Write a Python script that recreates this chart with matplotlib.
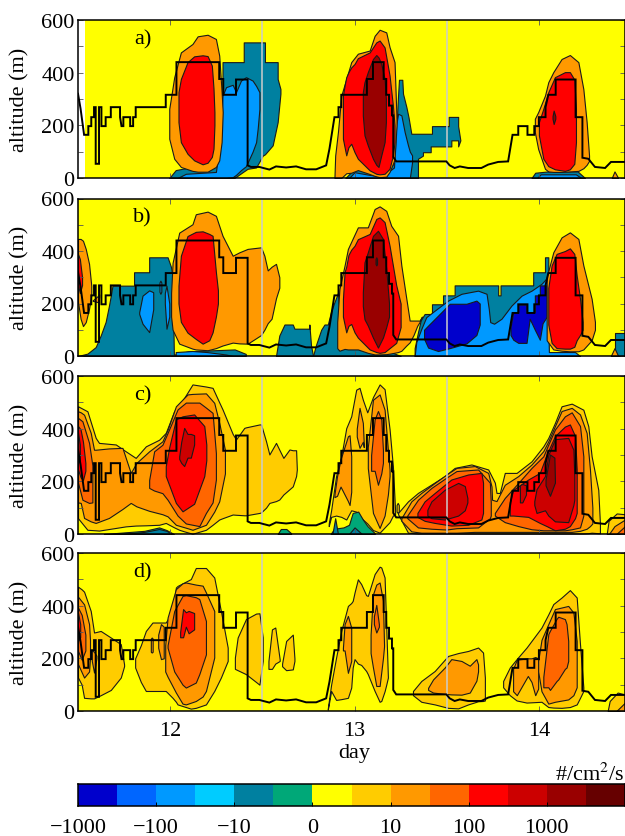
import matplotlib
matplotlib.use("Agg")
import matplotlib.pyplot as plt
from matplotlib.colors import ListedColormap

plt.rcParams["font.family"] = "Liberation Serif"
plt.rcParams["mathtext.fontset"] = "stix"
plt.rcParams["font.size"] = 16

# colour bar
bar_colors = ["#0000CC", "#0066FF", "#0099FF", "#00CCFF", "#0080A0", "#00A878", "#FFFF00",
              "#FFCC00", "#FF9900", "#FF6600", "#FF0000", "#CC0000", "#990000", "#660000"]
bar_levels = list(range(14))
bar_ticks = [0, 2, 4, 6, 8, 10, 12]
bar_labels = ["\u22121000", "\u2212100", "\u221210", "0", "10", "100", "1000"]
dblue, mblue, blue, cyan, teal, green, yellow, gold, orange, dorange, red, crimson, maroon, black_red = bar_colors

# mixed layer height, same in every panel
blh_day = [11.5, 11.514, 11.533, 11.556, 11.556, 11.572, 11.572, 11.587, 11.587, 11.596, 11.596, 11.614, 11.614,
           11.627, 11.627, 11.65, 11.65, 11.678, 11.678, 11.728, 11.728, 11.736, 11.746, 11.746, 11.783, 11.783,
           11.799, 11.799, 11.813, 11.813, 11.976, 11.976, 12.034, 12.034, 12.266, 12.266, 12.288, 12.288, 12.357,
           12.357, 12.42, 12.42, 12.438, 12.484, 12.505, 12.538, 12.574, 12.629, 12.683, 12.737, 12.792, 12.846,
           12.864, 12.891, 12.913, 12.913, 12.928, 12.928, 13.067, 13.067, 13.1, 13.1, 13.158, 13.158, 13.172,
           13.172, 13.187, 13.187, 13.203, 13.203, 13.21, 13.21, 13.226, 13.498, 13.516, 13.543, 13.571, 13.616,
           13.688, 13.725, 13.779, 13.833, 13.857, 13.888, 13.888, 13.938, 13.938, 13.975, 13.975, 14.0, 14.0,
           14.036, 14.036, 14.051, 14.091, 14.091, 14.199, 14.199, 14.236, 14.236, 14.268, 14.304, 14.359, 14.391,
           14.467]
blh_alt = [320, 263, 164, 164, 197, 197, 231, 231, 269, 269, 54, 54, 269,
           269, 197, 197, 231, 231, 269, 269, 231, 197, 197, 231, 231, 197,
           197, 231, 231, 269, 269, 316, 316, 440, 440, 376, 376, 316, 316,
           374, 374, 48, 42, 42, 38, 32, 44, 40, 44, 33, 33, 48,
           111, 231, 231, 269, 269, 316, 316, 376, 376, 440, 440, 376, 376,
           316, 316, 275, 275, 238, 238, 80, 63, 63, 48, 38, 44, 38,
           38, 51, 61, 63, 164, 164, 197, 197, 164, 164, 197, 197, 231,
           231, 269, 316, 316, 374, 374, 231, 231, 77, 73, 42, 38, 61,
           61]

# every contour below is (day, lower altitude, upper altitude)
# panel a
a_teal_12 = ([11.995, 12.03, 12.25, 12.284, 12.284, 12.348, 12.399, 12.399, 12.42, 12.466, 12.502, 12.514, 12.514, 12.556, 12.583, 12.583, 12.598],
             [0, 0, 0, 0, 0, 0, 25, 25, 35, 40, 85, 90, 90, 124, 212, 212, 320],
             [0, 30, 60, 60, 440, 440, 440, 515, 515, 515, 515, 515, 440, 440, 440, 376, 338])
a_blue_12 = ([12.04, 12.085, 12.248, 12.27, 12.284, 12.303, 12.339, 12.357, 12.384, 12.411, 12.447, 12.466, 12.475, 12.484],
             [0, 0, 0, 0, 0, 0, 3, 12, 30, 45, 100, 136, 190, 262],
             [0, 16, 23, 136, 313, 345, 354, 326, 370, 383, 370, 350, 338, 326])
a_orange_12 = ([11.995, 12.022, 12.058, 12.121, 12.149, 12.203, 12.248, 12.266, 12.279, 12.285],
               [149, 73, 42, 27, 24, 24, 42, 67, 136, 250],
               [263, 383, 477, 509, 538, 544, 528, 465, 326, 250])
a_red_12 = ([12.045, 12.058, 12.094, 12.13, 12.176, 12.203, 12.226, 12.235, 12.24],
            [212, 136, 92, 67, 52, 58, 80, 111, 200],
            [326, 376, 440, 462, 466, 463, 427, 340, 250])
a_teal_13 = ([12.95, 13.0, 13.08, 13.15, 13.22, 13.228, 13.236, 13.241, 13.259, 13.263, 13.281, 13.293, 13.308, 13.335, 13.344, 13.344, 13.371, 13.371, 13.413, 13.413, 13.42, 13.42, 13.498, 13.511, 13.511, 13.525, 13.525, 13.562, 13.562, 13.574],
             [0, 0, 0, 0, 0, 0, 0, 0, 0, 0, 0, 0, 0, 0, 0, 73, 85, 98, 98, 120, 120, 120, 120, 120, 120, 120, 143, 143, 120, 143],
             [0, 35, 20, 12, 60, 200, 313, 373, 373, 320, 270, 230, 168, 168, 168, 168, 168, 168, 168, 168, 168, 197, 197, 197, 232, 232, 232, 232, 197, 143])
a_blue_13 = ([12.97, 13.0, 13.08, 13.15, 13.214, 13.226, 13.236, 13.254, 13.272, 13.29, 13.3, 13.312],
             [0, 0, 0, 0, 0, 0, 0, 0, 0, 0, 0, 60],
             [0, 22, 12, 6, 40, 200, 244, 238, 174, 124, 100, 86])
a_orange_13 = ([12.891, 12.895, 12.91, 12.928, 12.955, 12.982, 13.018, 13.082, 13.109, 13.136, 13.172, 13.19, 13.217, 13.228],
               [0, 0, 0, 0, 18, 20, 30, 15, 8, 3, 5, 23, 70, 200],
               [0, 85, 175, 313, 376, 440, 472, 484, 540, 563, 553, 497, 440, 220])
a_red_13 = ([12.937, 12.946, 12.955, 12.967, 12.982, 13.0, 13.018, 13.082, 13.118, 13.136, 13.163, 13.19, 13.208, 13.217],
            [149, 117, 86, 117, 130, 98, 73, 29, 16, 14, 16, 35, 86, 136],
            [313, 351, 383, 402, 420, 433, 455, 477, 515, 522, 496, 389, 275, 200])
a_maroon_13 = ([13.045, 13.054, 13.072, 13.1, 13.118, 13.13, 13.145, 13.163, 13.17],
               [237, 162, 124, 73, 50, 42, 86, 136, 212],
               [326, 364, 402, 452, 467, 458, 433, 376, 300])
a_teal_14 = ([13.96, 13.98, 14.05, 14.21, 14.25], [0, 0, 0, 0, 0], [0, 20, 25, 25, 0])
a_blue_14 = ([13.99, 14.01, 14.2, 14.23], [0, 0, 0, 0], [0, 14, 14, 0])
a_orange_14 = ([13.978, 13.996, 14.033, 14.051, 14.078, 14.123, 14.168, 14.214, 14.241, 14.259, 14.272],
               [174, 110, 35, 25, 23, 23, 25, 27, 37, 50, 65],
               [225, 250, 313, 364, 402, 452, 467, 440, 338, 212, 85])
a_red_14 = ([14.0, 14.024, 14.051, 14.087, 14.141, 14.168, 14.192, 14.201],
            [162, 73, 45, 33, 27, 33, 54, 136],
            [212, 263, 326, 383, 402, 402, 374, 263])
a_maroon_14 = ([14.074, 14.08, 14.089], [225, 205, 225], [235, 256, 235])
a_orange_tip = ([14.395, 14.41, 14.43], [0, 0, 0], [0, 25, 0])

# panel b
b_teal_11 = ([11.5, 11.551, 11.596, 11.623, 11.65, 11.668, 11.678, 11.687, 11.804, 11.804, 11.886, 11.886, 11.986, 12.004, 12.013, 12.02, 12.1, 12.35, 12.41],
             [0, 0, 0, 0, 0, 0, 0, 0, 0, 0, 0, 0, 0, 0, 0, 0, 0, 0, 0],
             [0, 9, 34, 78, 130, 192, 230, 268, 268, 319, 319, 376, 376, 340, 300, 5, 18, 25, 8])
b_blue_11a = ([11.832, 11.85, 11.886, 11.908], [160, 123, 91, 178], [167, 230, 250, 243])
b_blue_11b = ([11.942, 11.947, 11.952], [245, 237, 245], [280, 287, 280])
b_blue_11c = ([11.971, 11.98, 11.995], [200, 104, 150], [240, 268, 200])
b_blue_12 = ([12.03, 12.12, 12.2, 12.3, 12.34], [0, 0, 0, 0, 0], [15, 19, 15, 6, 0])
b_orange_11 = ([11.5, 11.514, 11.527, 11.542, 11.56, 11.572], [205, 142, 114, 129, 180, 230], [446, 446, 439, 408, 351, 268])
b_orange_11b = ([11.58, 11.61, 11.615], [210, 205, 225], [212, 230, 235])
b_red_11 = ([11.5, 11.51, 11.522], [270, 240, 270], [388, 370, 300])
b_orange_12 = ([12.005, 12.013, 12.049, 12.121, 12.139, 12.203, 12.248, 12.284, 12.339, 12.375, 12.42, 12.493, 12.511, 12.529, 12.55, 12.574, 12.592],
               [150, 100, 47, 28, 25, 22, 30, 40, 51, 48, 47, 80, 100, 125, 142, 220, 260],
               [240, 355, 470, 502, 540, 550, 534, 458, 382, 395, 408, 414, 382, 326, 340, 351, 300])
b_red_12 = ([12.045, 12.058, 12.094, 12.139, 12.176, 12.212, 12.23, 12.248, 12.259],
            [200, 130, 89, 65, 47, 60, 90, 150, 200],
            [268, 382, 457, 473, 475, 465, 458, 320, 250])
b_teal_12a = ([12.574, 12.592, 12.62, 12.665, 12.674, 12.755, 12.755, 12.764, 12.775],
              [0, 0, 0, 0, 0, 0, 0, 0, 0],
              [0, 78, 120, 120, 104, 104, 120, 40, 0])
b_teal_12b = ([12.775, 12.79, 12.819, 12.837, 12.855, 12.873, 12.891, 12.91, 12.925, 13.0, 13.1, 13.2, 13.25],
              [0, 0, 0, 0, 0, 0, 0, 0, 0, 0, 0, 0, 0],
              [0, 40, 100, 120, 120, 170, 205, 240, 60, 32, 16, 14, 0])
b_orange_13 = ([12.906, 12.918, 12.946, 12.964, 13.018, 13.072, 13.109, 13.136, 13.172, 13.199, 13.236, 13.254, 13.281, 13.299, 13.32, 13.34, 13.353, 13.366],
               [30, 20, 27, 25, 25, 12, 6, 6, 7, 10, 15, 20, 40, 52, 80, 115, 130, 150],
               [130, 255, 345, 408, 490, 490, 560, 570, 553, 496, 458, 344, 218, 135, 135, 135, 135, 150])
b_red_13 = ([12.937, 12.946, 12.955, 12.967, 12.982, 13.0, 13.018, 13.082, 13.118, 13.136, 13.163, 13.19, 13.226, 13.25],
            [150, 120, 90, 115, 122, 90, 70, 25, 15, 12, 15, 30, 50, 110],
            [217, 320, 340, 385, 405, 420, 445, 465, 522, 528, 510, 420, 270, 200])
b_maroon_13 = ([13.045, 13.054, 13.072, 13.1, 13.127, 13.154, 13.172, 13.187],
               [190, 140, 116, 70, 32, 70, 110, 150],
               [243, 357, 395, 458, 477, 446, 332, 200])
b_darkest_13 = ([13.114, 13.118, 13.122], [350, 345, 350], [370, 376, 370])
b_teal_13 = ([13.326, 13.344, 13.359, 13.38, 13.42, 13.42, 13.48, 13.48, 13.543, 13.543, 13.779, 13.779, 13.792, 13.792, 13.969, 13.969, 14.033, 14.033, 14.051],
             [0, 0, 0, 0, 0, 0, 0, 0, 0, 0, 0, 0, 0, 0, 0, 0, 0, 0, 0],
             [30, 90, 136, 160, 160, 197, 197, 231, 231, 269, 269, 231, 231, 269, 269, 319, 319, 376, 376])
b_blue_13 = ([13.326, 13.335, 13.362, 13.389, 13.435, 13.507, 13.58, 13.67, 13.716, 13.728, 13.736, 13.757, 13.797, 13.851, 13.906, 13.96, 14.014, 14.047, 14.054, 14.196, 14.223],
             [0, 0, 0, 0, 0, 0, 0, 0, 0, 0, 0, 0, 0, 0, 0, 0, 0, 0, 0, 0, 0],
             [0, 53, 103, 148, 173, 211, 237, 249, 237, 180, 129, 123, 142, 192, 230, 249, 275, 300, 15, 15, 0])
b_dblue_13a = ([13.377, 13.399, 13.453, 13.516, 13.607, 13.661, 13.679],
               [66, 32, 19, 30, 48, 80, 120],
               [100, 116, 154, 199, 199, 211, 200])
b_dblue_13b = ([13.846, 13.861, 13.888, 13.888, 13.933, 13.933, 13.95, 13.978, 13.978, 14.005, 14.005, 14.02, 14.043],
               [80, 62, 50, 50, 50, 50, 142, 100, 100, 62, 62, 125, 150],
               [110, 167, 167, 196, 196, 167, 167, 167, 231, 231, 269, 269, 269])
b_orange_14 = ([14.042, 14.078, 14.123, 14.168, 14.214, 14.241, 14.286, 14.304],
               [60, 25, 20, 18, 18, 25, 60, 100],
               [300, 395, 452, 471, 446, 345, 218, 130])
b_red_14 = ([14.051, 14.069, 14.096, 14.141, 14.168, 14.192, 14.205, 14.223, 14.237],
            [120, 50, 30, 28, 28, 35, 60, 80, 100],
            [260, 345, 389, 400, 410, 389, 306, 218, 130])
b_teal_end = ([14.413, 14.413, 14.467], [0, 0, 0], [0, 87, 87])
b_orange_end = ([14.39, 14.41, 14.43], [0, 0, 0], [0, 30, 0])

# panel c
c_teal_bottom = ([11.74, 11.86, 11.94, 11.98, 12.01], [0, 0, 0, 0, 0], [0, 8, 19, 12, 0])
c_green_bottom = ([11.64, 11.86, 11.94, 11.98, 12.02], [0, 0, 0, 0, 0], [0, 12, 25, 15, 0])
c_green_12 = ([12.583, 12.6, 12.63, 12.656], [0, 0, 0, 0], [0, 19, 19, 3])
c_gold_12 = ([11.5, 11.551, 11.596, 11.614, 11.705, 11.759, 11.813, 11.868, 11.94, 11.976, 12.022, 12.049, 12.076, 12.121, 12.194, 12.23, 12.266, 12.284, 12.339, 12.357, 12.402, 12.411, 12.484, 12.493, 12.52, 12.538, 12.574, 12.592, 12.614, 12.647, 12.665, 12.683, 12.687],
             [60, 16, 14, 13, 23, 29, 32, 33, 35, 42, 25, 16, 10, 1, 16, 35, 55, 60, 74, 73, 71, 71, 80, 82, 100, 118, 125, 131, 150, 170, 181, 220, 245],
             [485, 466, 365, 346, 340, 314, 289, 333, 358, 384, 467, 490, 517, 568, 560, 555, 500, 473, 380, 359, 403, 405, 416, 416, 352, 302, 346, 320, 289, 321, 318, 318, 245])
c_orange_12 = ([11.5, 11.515, 11.533, 11.569, 11.587, 11.596, 11.668, 11.741, 11.786, 11.817, 11.886, 11.958, 11.986, 12.031, 12.094, 12.121, 12.194, 12.239, 12.266, 12.297],
               [120, 118, 61, 48, 44, 42, 61, 95, 118, 105, 88, 75, 67, 35, 22, 16, 35, 85, 124, 230],
               [466, 462, 453, 384, 320, 320, 325, 327, 232, 270, 314, 352, 396, 485, 530, 532, 534, 498, 422, 320])
c_dorange_11 = ([11.5, 11.524, 11.56, 11.578], [195, 130, 118, 120], [441, 428, 346, 260])
c_dorange_12 = ([11.886, 11.913, 11.958, 11.986, 12.04, 12.085, 12.158, 12.194, 12.23, 12.248],
                [175, 165, 155, 130, 70, 40, 30, 80, 120, 207],
                [205, 314, 339, 384, 473, 499, 499, 480, 460, 307])
c_red_11 = ([11.5, 11.514, 11.527, 11.54], [245, 215, 205, 240], [410, 397, 350, 270])
c_crimson_11 = ([11.5, 11.51], [280, 270], [385, 340])
c_red_12 = ([11.976, 11.995, 12.031, 12.067, 12.13, 12.185, 12.196], [220, 185, 118, 86, 115, 220, 280], [258, 330, 435, 447, 454, 410, 340])
c_crimson_12 = ([12.049, 12.06, 12.076, 12.094, 12.112, 12.13], [285, 270, 258, 290, 290, 340], [295, 350, 403, 380, 380, 375])
c_green_13 = ([12.87, 12.89, 12.94, 12.97, 12.99, 13.02, 13.045, 13.07, 13.11], [0, 0, 0, 0, 0, 0, 0, 0, 0], [0, 20, 25, 35, 80, 85, 55, 30, 3])
c_teal_13a = ([12.88, 12.895, 12.91], [0, 0, 0], [0, 60, 0])
c_teal_13b = ([12.97, 13.0, 13.04], [0, 0, 0], [0, 25, 0])
c_gold_13 = ([12.86, 12.873, 12.9, 12.928, 12.955, 12.982, 13.009, 13.027, 13.045, 13.069, 13.1, 13.136, 13.163, 13.19, 13.208, 13.22],
             [30, 65, 70, 65, 55, 90, 85, 70, 55, 40, 15, 5, 25, 45, 70, 75],
             [40, 90, 220, 295, 402, 447, 548, 555, 510, 462, 520, 568, 550, 398, 257, 90])
c_gold_sliver = ([13.228, 13.234, 13.24], [85, 80, 85], [110, 118, 110])
c_orange_13a = ([12.891, 12.905, 12.924, 12.964, 12.973, 12.982], [140, 145, 180, 125, 110, 160], [150, 219, 283, 371, 375, 295])
c_orange_13b = ([13.012, 13.027, 13.045, 13.05], [370, 327, 350, 330], [400, 479, 422, 345])
c_orange_13c = ([13.072, 13.1, 13.136, 13.163, 13.181, 13.19], [250, 80, 23, 70, 150, 220], [330, 510, 530, 472, 320, 245])
c_dorange_13 = ([13.09, 13.109, 13.127, 13.145, 13.154], [240, 240, 187, 230, 270], [300, 435, 467, 435, 320])
c_gold_14 = ([13.236, 13.29, 13.344, 13.417, 13.489, 13.543, 13.634, 13.725, 13.761, 13.77, 13.788, 13.815, 13.879, 13.96, 14.024, 14.051, 14.087, 14.123, 14.178, 14.241, 14.268, 14.286, 14.322, 14.331],
             [75, 5, 2, 2, 2, 2, 2, 2, 2, 2, 2, 2, 2, 2, 2, 2, 2, 2, 2, 2, 3, 5, 3, 3],
             [80, 124, 156, 188, 220, 251, 264, 245, 195, 156, 156, 232, 232, 276, 333, 365, 422, 485, 495, 472, 409, 295, 168, 40])
c_orange_14 = ([13.254, 13.308, 13.362, 13.435, 13.507, 13.553, 13.652, 13.725, 13.743, 13.746, 13.77, 13.815, 13.888, 13.96, 14.024, 14.051, 14.087, 14.123, 14.178, 14.223, 14.259, 14.277, 14.29],
               [50, 10, 5, 5, 5, 5, 8, 8, 8, 8, 8, 8, 8, 8, 8, 8, 8, 8, 8, 12, 20, 30, 40],
               [60, 124, 156, 194, 230, 251, 258, 232, 180, 130, 125, 187, 220, 264, 315, 352, 410, 467, 479, 454, 384, 244, 100])
c_dorange_13d = ([13.286, 13.344, 13.417, 13.498, 13.553, 13.67, 13.734, 13.739], [60, 25, 20, 17, 22, 25, 60, 70], [70, 130, 175, 214, 239, 245, 195, 120])
c_dorange_14 = ([13.761, 13.815, 13.888, 13.96, 14.024, 14.051, 14.087, 14.141, 14.178, 14.223, 14.241], [70, 45, 30, 18, 14, 14, 14, 14, 18, 25, 70], [80, 137, 194, 251, 295, 340, 397, 447, 462, 410, 295])
c_red_13d = ([13.341, 13.38, 13.435, 13.525, 13.616, 13.688, 13.697], [65, 50, 42, 32, 35, 55, 80], [80, 124, 156, 207, 226, 232, 195])
c_red_14 = ([13.842, 13.861, 13.942, 14.005, 14.042, 14.087, 14.141, 14.168, 14.196, 14.205], [70, 70, 65, 42, 30, 14, 20, 30, 60, 80], [120, 168, 207, 232, 302, 372, 408, 416, 372, 245])
c_crimson_13 = ([13.395, 13.417, 13.489, 13.562, 13.598, 13.612], [70, 60, 55, 70, 90, 120], [92, 124, 168, 194, 182, 137])
c_crimson_14a = ([13.897, 13.91, 13.93], [120, 120, 150], [185, 190, 185])
c_crimson_14b = ([13.975, 13.987, 14.033, 14.051, 14.087, 14.159, 14.187, 14.192], [110, 80, 90, 70, 48, 45, 110, 130], [125, 170, 220, 300, 360, 365, 320, 220])
c_maroon_14 = ([14.036, 14.06, 14.084, 14.087], [185, 145, 190, 195], [207, 302, 290, 200])
c_gold_end = ([14.368, 14.378, 14.422, 14.467], [0, 0, 0, 0], [0, 50, 78, 75])
c_orange_end = ([14.38, 14.41, 14.467], [0, 0, 0], [0, 30, 55])
c_dorange_end = ([14.42, 14.467], [0, 0], [0, 30])

# panel d
d_gold_11 = ([11.5, 11.52, 11.533, 11.569, 11.587, 11.623, 11.678, 11.732, 11.75], [127, 100, 50, 48, 48, 60, 80, 127, 170], [472, 462, 453, 380, 298, 304, 279, 254, 177])
d_orange_11 = ([11.5, 11.533, 11.56, 11.565], [178, 127, 150, 200], [434, 405, 330, 270])
d_orange_11b = ([11.575, 11.587, 11.6], [190, 146, 200], [230, 225, 210])
d_dorange_11 = ([11.5, 11.52, 11.54], [228, 195, 230], [393, 365, 290])
d_red_11 = ([11.5, 11.512], [266, 280], [374, 330])
d_gold_12 = ([11.81, 11.841, 11.868, 11.904, 11.976, 12.013, 12.031, 12.04, 12.112, 12.139, 12.194, 12.239, 12.275, 12.312],
             [165, 110, 76, 76, 76, 50, 35, 25, 9, 12, 25, 76, 127, 190],
             [200, 250, 304, 336, 336, 380, 469, 475, 501, 543, 543, 507, 380, 241])
d_orange_12a = ([11.895, 11.9, 11.905], [225, 222, 225], [275, 279, 275])
d_orange_12b = ([11.935, 11.95, 11.965], [240, 197, 200], [290, 330, 320])
d_orange_12 = ([11.973, 11.986, 12.031, 12.067, 12.085, 12.139, 12.176, 12.194, 12.239], [150, 130, 70, 28, 25, 38, 55, 76, 203], [250, 355, 463, 485, 488, 480, 476, 450, 380])
d_dorange_12 = ([11.986, 12.022, 12.067, 12.085, 12.139, 12.158, 12.194], [240, 150, 100, 89, 108, 140, 215], [250, 380, 437, 440, 432, 425, 342])
d_red_12 = ([12.054, 12.07, 12.085, 12.1, 12.13], [280, 280, 320, 295, 310], [300, 387, 375, 380, 372])
d_gold_12a = ([12.351, 12.366, 12.411, 12.466, 12.484, 12.502], [160, 155, 140, 110, 100, 190], [203, 279, 349, 370, 371, 280])
d_gold_12b = ([12.533, 12.552, 12.57, 12.594], [160, 160, 180, 190], [190, 310, 317, 196])
d_gold_12c = ([12.607, 12.629, 12.665, 12.674], [170, 155, 158, 190], [180, 266, 290, 200])
d_gold_13 = ([12.855, 12.873, 12.9, 12.928, 12.964, 12.982, 12.99, 13.0, 13.018, 13.036, 13.063, 13.072, 13.109, 13.136, 13.145, 13.163, 13.172, 13.181],
             [5, 76, 42, 45, 50, 89, 165, 197, 180, 175, 152, 140, 76, 35, 38, 75, 100, 127],
             [10, 100, 203, 304, 399, 410, 418, 450, 500, 482, 440, 437, 520, 548, 545, 507, 317, 127])
d_orange_13a = ([12.937, 12.946, 12.964, 12.982], [230, 230, 145, 190], [240, 330, 361, 317])
d_orange_13b = ([13.087, 13.1, 13.118, 13.136, 13.154, 13.16], [220, 165, 95, 95, 200, 245], [290, 443, 480, 488, 420, 250])
d_dorange_13 = ([13.105, 13.118, 13.132], [330, 298, 320], [360, 403, 330])
d_gold_13d = ([13.317, 13.362, 13.435, 13.507, 13.562, 13.616, 13.67, 13.697, 13.707], [60, 35, 25, 12, 10, 25, 37, 38, 40], [76, 114, 152, 209, 220, 228, 241, 222, 127])
d_orange_13d = ([13.399, 13.426, 13.489, 13.525, 13.58, 13.625, 13.661, 13.67], [80, 70, 65, 63, 62, 70, 115, 150], [88, 120, 165, 197, 190, 172, 197, 177])
d_gold_14 = ([13.806, 13.842, 13.879, 13.933, 14.014, 14.051, 14.078, 14.123, 14.168, 14.205, 14.223, 14.241], [90, 60, 40, 32, 35, 15, 13, 12, 15, 25, 50, 76], [114, 165, 197, 241, 317, 367, 406, 431, 459, 431, 253, 90])
d_orange_14a = ([13.86, 13.88, 13.94, 13.96, 13.98, 13.996], [75, 60, 133, 110, 60, 85], [160, 195, 200, 200, 205, 200])
d_orange_14 = ([13.996, 14.014, 14.051, 14.087, 14.159, 14.187, 14.205], [150, 75, 28, 35, 44, 60, 90], [190, 270, 330, 387, 399, 374, 266])
d_dorange_14 = ([14.024, 14.051, 14.06, 14.096, 14.105, 14.141, 14.15, 14.159], [90, 90, 80, 114, 120, 160, 165, 190], [130, 292, 305, 350, 358, 349, 330, 266])
d_gold_end = ([14.373, 14.384, 14.427, 14.467], [0, 0, 0, 0], [0, 38, 70, 63])
d_orange_end = ([14.42, 14.467], [0, 0], [0, 32])

panel_a = [(teal, a_teal_12), (blue, a_blue_12), (orange, a_orange_12), (red, a_red_12),
           (teal, a_teal_13), (blue, a_blue_13), (orange, a_orange_13), (red, a_red_13), (maroon, a_maroon_13),
           (teal, a_teal_14), (blue, a_blue_14), (orange, a_orange_14), (red, a_red_14), (maroon, a_maroon_14),
           (orange, a_orange_tip)]
panel_b = [(teal, b_teal_11), (blue, b_blue_11a), (blue, b_blue_11b), (blue, b_blue_11c), (blue, b_blue_12),
           (orange, b_orange_11), (orange, b_orange_11b), (red, b_red_11), (orange, b_orange_12), (red, b_red_12),
           (teal, b_teal_12a), (teal, b_teal_12b), (teal, b_teal_13), (blue, b_blue_13), (dblue, b_dblue_13a),
           (dblue, b_dblue_13b), (orange, b_orange_13), (red, b_red_13), (maroon, b_maroon_13),
           (black_red, b_darkest_13), (orange, b_orange_14), (red, b_red_14), (teal, b_teal_end),
           (orange, b_orange_end)]
panel_c = [(green, c_green_bottom), (teal, c_teal_bottom), (gold, c_gold_12), (orange, c_orange_12),
           (dorange, c_dorange_11), (dorange, c_dorange_12), (red, c_red_11), (crimson, c_crimson_11),
           (red, c_red_12), (crimson, c_crimson_12), (green, c_green_12), (gold, c_gold_13), (gold, c_gold_sliver),
           (orange, c_orange_13a), (orange, c_orange_13b), (orange, c_orange_13c), (dorange, c_dorange_13),
           (green, c_green_13), (teal, c_teal_13a), (teal, c_teal_13b), (gold, c_gold_14), (orange, c_orange_14),
           (dorange, c_dorange_13d), (dorange, c_dorange_14), (red, c_red_13d), (red, c_red_14),
           (crimson, c_crimson_13), (crimson, c_crimson_14a), (crimson, c_crimson_14b), (maroon, c_maroon_14),
           (gold, c_gold_end), (orange, c_orange_end), (dorange, c_dorange_end)]
panel_d = [(gold, d_gold_11), (orange, d_orange_11), (orange, d_orange_11b), (dorange, d_dorange_11), (red, d_red_11),
           (gold, d_gold_12), (orange, d_orange_12a), (orange, d_orange_12b), (orange, d_orange_12),
           (dorange, d_dorange_12), (red, d_red_12), (gold, d_gold_12a), (gold, d_gold_12b), (gold, d_gold_12c),
           (gold, d_gold_13), (orange, d_orange_13a), (orange, d_orange_13b), (dorange, d_dorange_13),
           (gold, d_gold_13d), (orange, d_orange_13d), (gold, d_gold_14), (orange, d_orange_14a),
           (orange, d_orange_14), (dorange, d_dorange_14), (gold, d_gold_end), (orange, d_orange_end)]

panels = [panel_a, panel_b, panel_c, panel_d]
panel_names = ["a)", "b)", "c)", "d)"]
panel_start = [11.54, 11.5, 11.5, 11.5]
panel_rows = [(21, 179), (199.5, 357), (377, 535), (554, 712)]

W, H = 625, 837
fig = plt.figure(figsize=(W / 100, H / 100), dpi=100)

for i, layers in enumerate(panels):
    top, bottom = panel_rows[i]
    ax = fig.add_axes([78 / W, 1 - bottom / H, 547 / W, (bottom - top) / H])
    ax.fill_between([panel_start[i], 14.467], 0, 600, color=yellow, linewidth=0)
    for color, (day, low, high) in layers:
        ax.fill_between(day, low, high, facecolor=color, edgecolor="#1a1a1a", linewidth=0.8)
    ax.axvline(12.5, color="#cccccc", lw=1.1)
    ax.axvline(13.5, color="#cccccc", lw=1.1)
    ax.plot(blh_day, blh_alt, color="k", lw=1.4, solid_joinstyle="miter")
    ax.set_xlim(11.5, 14.467)
    ax.set_ylim(0, 600)
    ax.set_yticks([0, 200, 400, 600])
    ax.set_yticks([100, 300, 500], minor=True)
    ax.set_xticks([12, 13, 14])
    ax.tick_params(which="both", direction="in", top=True, right=True, length=3.5, width=0.6, color="#555555")
    ax.tick_params(axis="y", labelsize=16, pad=2.5)
    ax.tick_params(axis="x", labelsize=16, pad=7)
    ax.set_ylabel("altitude (m)", fontsize=16)
    ax.yaxis.set_label_coords(-0.088, 0.5)
    ax.text(11.85, 530, panel_names[i], fontsize=16, ha="center", va="center")
    for spine in ax.spines.values():
        spine.set_linewidth(1.1)
    if i < 3:
        ax.set_xticklabels([])
    else:
        ax.set_xlabel("day", fontsize=16)
        ax.xaxis.set_label_coords(0.505, -0.2)

# colour bar
cax = fig.add_axes([78 / W, 1 - 807 / H, 547 / W, 22 / H])
cax.pcolormesh(list(range(15)), [0, 1], [bar_levels], cmap=ListedColormap(bar_colors), vmin=0, vmax=14)
cax.set_yticks([])
cax.set_xticks(bar_ticks)
cax.set_xticklabels(bar_labels, fontsize=16)
cax.tick_params(axis="x", direction="in", length=3, width=0.7, pad=9)
cax.set_xlim(0, 14)
for spine in cax.spines.values():
    spine.set_linewidth(1.1)
fig.text(625 / W, 1 - 781 / H, "#/cm$^2$/s", ha="right", va="baseline", fontsize=16)

fig.savefig("out.png", dpi=100)
